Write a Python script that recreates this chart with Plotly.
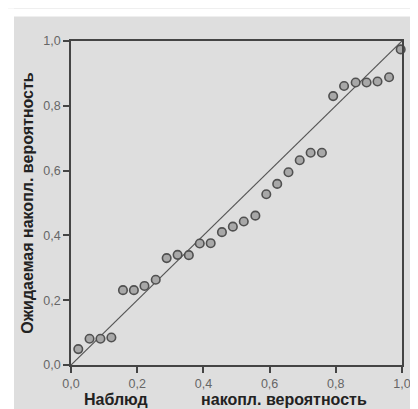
import plotly.graph_objects as go

observed = [0.022, 0.056, 0.089, 0.122, 0.157, 0.190, 0.222, 0.256, 0.289, 0.322,
            0.356, 0.389, 0.422, 0.456, 0.489, 0.522, 0.557, 0.590, 0.623, 0.657,
            0.691, 0.724, 0.758, 0.792, 0.825, 0.860, 0.893, 0.926, 0.961, 0.996]
expected = [0.049, 0.081, 0.081, 0.085, 0.231, 0.231, 0.244, 0.263, 0.330, 0.340,
            0.339, 0.375, 0.376, 0.410, 0.427, 0.443, 0.461, 0.527, 0.559, 0.595,
            0.632, 0.655, 0.655, 0.830, 0.861, 0.872, 0.872, 0.875, 0.888, 0.974]
diag = [0.0, 1.0]
ticks = [0.0, 0.2, 0.4, 0.6, 0.8, 1.0]

fig = go.Figure()
fig.add_trace(go.Scatter(x=diag, y=diag, mode="lines",
                         line=dict(color="#555555", width=1.2),
                         hoverinfo="skip", showlegend=False))
fig.add_trace(go.Scatter(x=observed, y=expected, mode="markers",
                         marker=dict(size=8.5, color="#a8a8a8",
                                     line=dict(color="#505050", width=1.6)),
                         cliponaxis=False, showlegend=False))

axis_common = dict(range=[0, 1], tickvals=ticks, tickformat=".1f",
                   showgrid=False, zeroline=False, showline=True, mirror=True,
                   linecolor="#444444", linewidth=1.5,
                   ticks="outside", ticklen=6, tickcolor="#444444", tickwidth=1.5,
                   tickfont=dict(family="Liberation Sans, Arial", size=12.5, color="#666666"))

gap = "\u00a0" * 12
tail = "\u00a0" * 5
title_font = dict(family="Liberation Sans, Arial", size=16, color="#222222")
fig.update_layout(
    width=418, height=409,
    margin=dict(l=63, r=24, t=33, b=47),
    paper_bgcolor="#dedede", plot_bgcolor="#dedede",
    separators=", ",
    xaxis=dict(**axis_common,
               title=dict(text="<b>Наблюд" + gap + "накопл. вероятность" + tail + "</b>",
                          font=title_font, standoff=3)),
    yaxis=dict(**axis_common,
               title=dict(text="<b>Ожидаемая накопл. вероятность</b>",
                          font=title_font, standoff=6)),
    shapes=[
        dict(type="rect", xref="paper", yref="paper",
             x0=-63/331, x1=1 + 24/329, y0=1 + 25/329, y1=1 + 33/329,
             fillcolor="white", line=dict(width=0), layer="below"),
        dict(type="rect", xref="paper", yref="paper",
             x0=-63/331, x1=-57/331, y0=-47/329, y1=1 + 33/329,
             fillcolor="white", line=dict(width=0), layer="below"),
    ],
)

fig.write_html("out.html")
